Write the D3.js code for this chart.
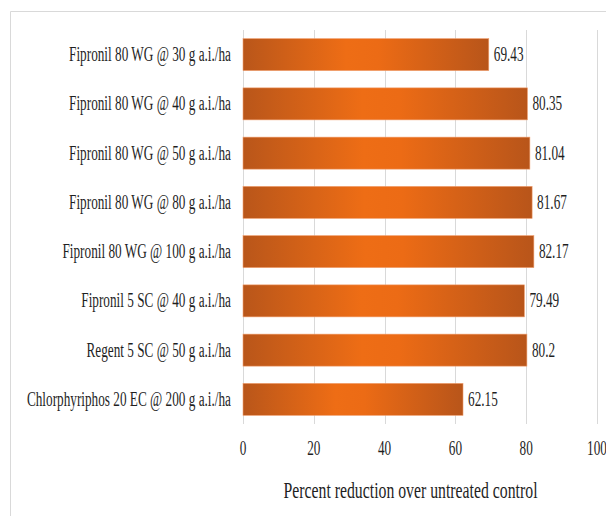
<!DOCTYPE html>
<html>
<head>
<meta charset="utf-8">
<script src="https://cdn.jsdelivr.net/npm/d3@7/dist/d3.min.js"></script>
<style>
  html, body { margin: 0; padding: 0; background: #fff; }
  svg { display: block; }
</style>
</head>
<body>
<svg id="chart" width="606" height="516"></svg>
<script>
// Treatments (top to bottom) and their percent reduction over untreated control
const treatments = [
  "Fipronil 80 WG @ 30 g a.i./ha",
  "Fipronil 80 WG @ 40 g a.i./ha",
  "Fipronil 80 WG @ 50 g a.i./ha",
  "Fipronil 80 WG @ 80 g a.i./ha",
  "Fipronil 80 WG @ 100 g a.i./ha",
  "Fipronil 5 SC @ 40 g a.i./ha",
  "Regent 5 SC @ 50 g a.i./ha",
  "Chlorphyriphos 20 EC @ 200 g a.i./ha"
];
const reduction = [69.43, 80.35, 81.04, 81.67, 82.17, 79.49, 80.2, 62.15];
const xTicks = [0, 20, 40, 60, 80, 100];
const xTitle = "Percent reduction over untreated control";

const svg = d3.select("#chart");

// chart frame
svg.append("path")
  .attr("d", "M10.5,516 V11.5 H606")
  .attr("fill", "none")
  .attr("stroke", "#d9d9d9")
  .attr("stroke-width", 1);

const x = d3.scaleLinear().domain([0, 100]).range([243, 597]);
const y = d3.scaleBand().domain(treatments).range([30, 424]).paddingInner(0.35).paddingOuter(0.175);

// horizontal gradient: dark edges, bright orange centre
const defs = svg.append("defs");
const grad = defs.append("linearGradient")
  .attr("id", "barGrad")
  .attr("x1", "0%").attr("x2", "100%").attr("y1", "0%").attr("y2", "0%");
[[0, "#b9561a"], [0.42, "#ee6d15"], [0.55, "#ec6b15"], [1, "#b8551a"]].forEach(([o, c]) =>
  grad.append("stop").attr("offset", o).attr("stop-color", c));

// vertical gridlines
svg.append("g")
  .selectAll("line")
  .data(xTicks)
  .join("line")
  .attr("x1", d => Math.round(x(d)) + 0.5)
  .attr("x2", d => Math.round(x(d)) + 0.5)
  .attr("y1", 30)
  .attr("y2", 424)
  .attr("stroke", "#d9d9d9")
  .attr("stroke-width", 1);

// bars
svg.append("g")
  .selectAll("rect")
  .data(treatments)
  .join("rect")
  .attr("x", x(0))
  .attr("y", d => y(d))
  .attr("width", (d, i) => x(reduction[i]) - x(0))
  .attr("height", y.bandwidth())
  .attr("fill", "url(#barGrad)")
  .attr("stroke", "#f0a070")
  .attr("stroke-width", 0.6);

// condensed serif text with its baseline at (px, py)
function label(g, px, py, str, size, anchor, squeeze) {
  g.append("text")
    .attr("transform", `translate(${px},${py}) scale(${squeeze},1)`)
    .attr("text-anchor", anchor)
    .attr("font-family", "Liberation Serif")
    .attr("font-size", size)
    .attr("fill", "#1f1f1f")
    .text(str);
}

const fs = 20;
const sq = 0.662;
const capShift = 0.331 * fs; // puts the cap-height middle on the bar centre

// category labels
const catG = svg.append("g");
treatments.forEach(t => label(catG, 231, y(t) + y.bandwidth() / 2 + capShift, t, fs, "end", sq));

// value labels
const valG = svg.append("g");
treatments.forEach((t, i) =>
  label(valG, x(reduction[i]) + 5, y(t) + y.bandwidth() / 2 + capShift, String(reduction[i]), fs, "start", sq));

// x axis tick labels
const tickG = svg.append("g");
xTicks.forEach(v => label(tickG, x(v), 455, String(v), fs, "middle", sq));

// axis title
label(svg.append("g"), 410.5, 497.5, xTitle, 23, "middle", 0.686);
</script>
</body>
</html>
